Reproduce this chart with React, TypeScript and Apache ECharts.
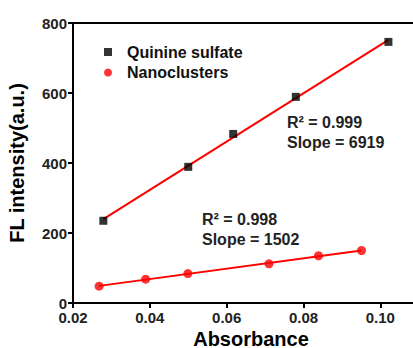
import React, { useEffect, useRef } from "react";
import * as echarts from "echarts";

const quinineX = [0.0279, 0.050, 0.0617, 0.078, 0.1021];
const quinineY = [235, 389, 483, 589, 746];
const nanoX = [0.0268, 0.0389, 0.0499, 0.071, 0.0839, 0.0951];
const nanoY = [48, 68, 84, 112, 135, 150];
const xTicks = [0.02, 0.04, 0.06, 0.08, 0.1];
const quinineStats = ["R² = 0.999", "Slope = 6919"];
const nanoStats = ["R² = 0.998", "Slope = 1502"];

function fitLine(xs: number[], ys: number[]) {
  const n = xs.length;
  const mx = xs.reduce((a, b) => a + b, 0) / n;
  const my = ys.reduce((a, b) => a + b, 0) / n;
  let sxy = 0, sxx = 0;
  for (let i = 0; i < n; i++) {
    sxy += (xs[i] - mx) * (ys[i] - my);
    sxx += (xs[i] - mx) ** 2;
  }
  const k = sxy / sxx;
  const b = my - k * mx;
  const x0 = Math.min(...xs), x1 = Math.max(...xs);
  return [[x0, k * x0 + b], [x1, k * x1 + b]];
}

const FONT = "'Liberation Sans', Arial, sans-serif";

export default function App() {
  const ref = useRef<HTMLDivElement>(null);
  useEffect(() => {
    const chart = echarts.init(ref.current!, null, { renderer: "svg" });
    const axisLine = { lineStyle: { color: "#000", width: 2 } };
    chart.setOption({
      animation: false,
      backgroundColor: "#fff",
      grid: { left: 73, top: 23, right: 0, bottom: 45, containLabel: false, outerBoundsMode: "none" },
      legend: {
        left: 99,
        top: 39,
        orient: "vertical",
        itemGap: 4.5,
        itemWidth: 8,
        itemHeight: 8,
        data: [
          { name: "Quinine sulfate", icon: "rect" },
          { name: "Nanoclusters", icon: "circle" },
        ],
        textStyle: {
          fontFamily: FONT,
          fontWeight: "bold",
          fontSize: 16,
          color: "#111",
          lineHeight: 16,
          padding: [0, 0, 0, 10],
        },
      },
      xAxis: [
        {
          type: "value",
          min: 0.02,
          max: 0.1085,
          interval: 0.02,
          name: "Absorbance",
          nameLocation: "middle",
          nameGap: 26,
          nameTextStyle: {
            fontFamily: FONT,
            fontWeight: "bold",
            fontSize: 20,
            lineHeight: 18,
            color: "#000",
            padding: [0, 0, 0, 16],
          },
          axisLine,
          axisTick: { show: true, inside: false, length: 5, lineStyle: { color: "#000", width: 2 }, customValues: xTicks },
          axisLabel: {
            customValues: xTicks,
            fontFamily: FONT,
            fontWeight: "bold",
            fontSize: 15,
            lineHeight: 14,
            color: "#222",
            margin: 7,
            formatter: (v: number) => v.toFixed(2),
          },
          splitLine: { show: false },
        },
        {
          type: "value",
          position: "top",
          min: 0.02,
          max: 0.1085,
          axisLine,
          axisTick: { show: false },
          axisLabel: { show: false },
          splitLine: { show: false },
        },
      ],
      yAxis: {
        type: "value",
        min: 0,
        max: 800,
        interval: 200,
        name: "FL intensity(a.u.)",
        nameLocation: "middle",
        nameGap: 46,
        nameTextStyle: { fontFamily: FONT, fontWeight: "bold", fontSize: 20, color: "#000" },
        axisLine: { show: true, ...axisLine },
        axisTick: { show: true, inside: false, length: 5, lineStyle: { color: "#000", width: 2 } },
        axisLabel: { fontFamily: FONT, fontWeight: "bold", fontSize: 15, lineHeight: 12, color: "#222", margin: 6 },
        splitLine: { show: false },
      },
      series: [
        {
          name: "Quinine fit",
          type: "line",
          data: fitLine(quinineX, quinineY),
          showSymbol: false,
          symbol: "none",
          lineStyle: { color: "#ff0000", width: 2 },
          z: 2,
        },
        {
          name: "Nano fit",
          type: "line",
          data: fitLine(nanoX, nanoY),
          showSymbol: false,
          symbol: "none",
          lineStyle: { color: "#ff0000", width: 2 },
          z: 2,
        },
        {
          name: "Quinine sulfate",
          type: "scatter",
          symbol: "rect",
          symbolSize: 8,
          itemStyle: { color: "#000" },
          data: quinineX.map((x, i) => [x, quinineY[i]]),
          z: 3,
        },
        {
          name: "Nanoclusters",
          type: "scatter",
          symbol: "circle",
          symbolSize: 9,
          itemStyle: { color: "#ff0000" },
          data: nanoX.map((x, i) => [x, nanoY[i]]),
          z: 3,
        },
      ],
      graphic: [
        {
          type: "text",
          left: 287,
          top: 112.5,
          style: { text: quinineStats.join("\n"), font: `bold 16px ${FONT}`, fill: "#222", lineHeight: 20 },
        },
        {
          type: "text",
          left: 202,
          top: 209,
          style: { text: nanoStats.join("\n"), font: `bold 16px ${FONT}`, fill: "#222", lineHeight: 20 },
        },
      ],
    });
    return () => chart.dispose();
  }, []);
  return (
    <div
      ref={ref}
      style={{ position: "absolute", left: 0, top: 0, width: 413, height: 348 }}
    />
  );
}
